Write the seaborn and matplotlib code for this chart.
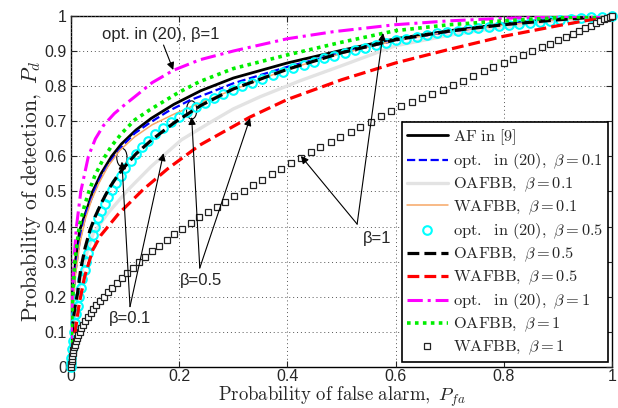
import matplotlib
matplotlib.use("Agg")
import matplotlib.pyplot as plt
from matplotlib.patches import Ellipse
import seaborn as sns

# ---------------- data ----------------
af_x = [0, 0.001, 0.003, 0.008, 0.016, 0.031, 0.04, 0.056, 0.075, 0.093, 0.12, 0.148, 0.19, 0.24, 0.3, 0.4, 0.5, 0.6, 0.7, 0.8, 0.9, 1.0]
af_y = [0, 0.10, 0.19, 0.30, 0.39, 0.457, 0.50, 0.552, 0.60, 0.635, 0.675, 0.708, 0.748, 0.787, 0.823, 0.866, 0.902, 0.935, 0.958, 0.977, 0.992, 1.0]

opt01_x = [0, 0.001, 0.003, 0.008, 0.016, 0.028, 0.044, 0.058, 0.075, 0.095, 0.118, 0.145, 0.179, 0.22, 0.261, 0.3, 0.4, 0.5, 0.6, 0.7, 0.8, 0.9, 1.0]
opt01_y = [0, 0.09, 0.17, 0.27, 0.36, 0.44, 0.504, 0.55, 0.59, 0.63, 0.666, 0.695, 0.728, 0.76, 0.784, 0.808, 0.855, 0.895, 0.93, 0.955, 0.975, 0.99, 1.0]

oaf01_x = [0, 0.001, 0.003, 0.007, 0.013, 0.02, 0.03, 0.041, 0.068, 0.105, 0.148, 0.204, 0.261, 0.3, 0.35, 0.423, 0.5, 0.6, 0.7, 0.8, 0.9, 1.0]
oaf01_y = [0, 0.05, 0.10, 0.16, 0.21, 0.27, 0.33, 0.38, 0.438, 0.504, 0.571, 0.647, 0.70, 0.735, 0.77, 0.815, 0.858, 0.915, 0.945, 0.968, 0.987, 1.0]

waf01_x = [0, 0.001, 0.003, 0.008, 0.016, 0.026, 0.038, 0.052, 0.068, 0.09, 0.118, 0.15, 0.19, 0.229, 0.261, 0.3, 0.4, 0.5, 0.6, 0.7, 0.8, 0.9, 1.0]
waf01_y = [0, 0.08, 0.16, 0.26, 0.35, 0.42, 0.476, 0.525, 0.571, 0.617, 0.656, 0.69, 0.72, 0.746, 0.766, 0.79, 0.848, 0.893, 0.93, 0.955, 0.974, 0.989, 1.0]

opt05_x = [0, 0.0001, 0.0003, 0.0012, 0.0028, 0.0055, 0.0078, 0.010, 0.0125, 0.015, 0.018, 0.021, 0.025, 0.0285,
           0.032, 0.036, 0.040, 0.045, 0.050, 0.056, 0.062, 0.069, 0.076, 0.084, 0.092, 0.100, 0.110, 0.120,
           0.131, 0.143, 0.156, 0.170, 0.184, 0.199, 0.215, 0.231, 0.247, 0.264, 0.281, 0.299, 0.317, 0.335,
           0.354, 0.373, 0.392, 0.411, 0.430, 0.449, 0.468, 0.487, 0.506, 0.525, 0.544, 0.563, 0.582, 0.601,
           0.620, 0.639, 0.658, 0.677, 0.696, 0.715, 0.734, 0.753, 0.772, 0.791, 0.810, 0.829, 0.848, 0.867,
           0.886, 0.905, 0.924, 0.943, 0.962, 0.981, 1.000]
opt05_y = [0, 0.012, 0.025, 0.05, 0.075, 0.10, 0.125, 0.15, 0.175, 0.20, 0.225, 0.25, 0.275, 0.30,
           0.325, 0.35, 0.375, 0.40, 0.425, 0.445, 0.465, 0.484, 0.504, 0.524, 0.545, 0.566, 0.587, 0.607,
           0.627, 0.645, 0.663, 0.681, 0.697, 0.712, 0.726, 0.740, 0.753, 0.765, 0.777, 0.789, 0.800, 0.810,
           0.820, 0.831, 0.841, 0.851, 0.861, 0.870, 0.879, 0.887, 0.895, 0.903, 0.910, 0.917, 0.924, 0.930,
           0.935, 0.940, 0.945, 0.950, 0.954, 0.958, 0.962, 0.966, 0.969, 0.972, 0.975, 0.977, 0.980, 0.983,
           0.986, 0.989, 0.991, 0.994, 0.996, 0.998, 1.000]

oaf05_x = [0, 0.001, 0.003, 0.007, 0.012, 0.018, 0.026, 0.035, 0.045, 0.057, 0.07, 0.085, 0.1, 0.12, 0.15, 0.19, 0.24, 0.3, 0.4, 0.5, 0.6, 0.7, 0.8, 0.9, 1.0]
oaf05_y = [0, 0.07, 0.12, 0.17, 0.21, 0.28, 0.34, 0.39, 0.43, 0.47, 0.508, 0.543, 0.572, 0.607, 0.648, 0.695, 0.745, 0.792, 0.848, 0.895, 0.932, 0.957, 0.975, 0.989, 1.0]

waf05_x = [0, 0.001, 0.003, 0.008, 0.015, 0.025, 0.04, 0.055, 0.087, 0.133, 0.179, 0.238, 0.331, 0.4, 0.5, 0.6, 0.7, 0.8, 0.9, 1.0]
waf05_y = [0, 0.03, 0.06, 0.105, 0.18, 0.257, 0.333, 0.375, 0.435, 0.505, 0.565, 0.632, 0.712, 0.762, 0.818, 0.866, 0.905, 0.942, 0.972, 1.0]

opt1_x = [0, 0.0005, 0.002, 0.005, 0.01, 0.018, 0.032, 0.045, 0.06, 0.08, 0.1, 0.118, 0.15, 0.189, 0.238, 0.3, 0.4, 0.485, 0.6, 0.7, 0.8, 0.9, 1.0]
opt1_y = [0, 0.10, 0.20, 0.30, 0.40, 0.50, 0.60, 0.65, 0.688, 0.722, 0.748, 0.77, 0.81, 0.845, 0.875, 0.90, 0.935, 0.955, 0.975, 0.986, 0.993, 0.998, 1.0]

oaf1_x = [0, 0.001, 0.003, 0.007, 0.015, 0.025, 0.033, 0.044, 0.058, 0.075, 0.095, 0.118, 0.145, 0.173, 0.2, 0.238, 0.3, 0.4, 0.5, 0.6, 0.7, 0.8, 0.9, 1.0]
oaf1_y = [0, 0.11, 0.20, 0.30, 0.40, 0.46, 0.50, 0.545, 0.588, 0.63, 0.668, 0.704, 0.732, 0.758, 0.783, 0.813, 0.85, 0.889, 0.925, 0.958, 0.975, 0.986, 0.995, 1.0]

waf1_x = [0.000, 0.000, 0.001, 0.001, 0.002, 0.003, 0.004, 0.005, 0.007, 0.009, 0.011, 0.013, 0.016, 0.019,
          0.022, 0.026, 0.031, 0.036, 0.041, 0.047, 0.053, 0.060, 0.068, 0.076, 0.085, 0.094, 0.104, 0.114,
          0.125, 0.137, 0.150, 0.163, 0.177, 0.191, 0.206, 0.221, 0.237, 0.253, 0.269, 0.285, 0.302, 0.319,
          0.336, 0.353, 0.371, 0.389, 0.407, 0.425, 0.443, 0.461, 0.480, 0.498, 0.517, 0.535, 0.554, 0.573,
          0.592, 0.611, 0.630, 0.649, 0.668, 0.687, 0.706, 0.725, 0.744, 0.763, 0.781, 0.800, 0.818, 0.836,
          0.853, 0.870, 0.886, 0.901, 0.915, 0.928, 0.940, 0.951, 0.961, 0.970, 0.978, 0.985, 0.991, 0.996, 1.000]
waf1_y = [0.000, 0.008, 0.016, 0.024, 0.032, 0.040, 0.048, 0.056, 0.064, 0.073, 0.082, 0.091, 0.100, 0.110,
          0.120, 0.131, 0.142, 0.153, 0.164, 0.176, 0.188, 0.200, 0.213, 0.226, 0.240, 0.254, 0.268, 0.283,
          0.298, 0.313, 0.330, 0.346, 0.362, 0.378, 0.394, 0.410, 0.426, 0.441, 0.456, 0.471, 0.487, 0.502,
          0.518, 0.533, 0.549, 0.565, 0.580, 0.596, 0.611, 0.626, 0.641, 0.656, 0.670, 0.685, 0.699, 0.714,
          0.728, 0.742, 0.754, 0.765, 0.778, 0.790, 0.803, 0.816, 0.829, 0.842, 0.854, 0.866, 0.878, 0.889,
          0.900, 0.911, 0.921, 0.931, 0.940, 0.949, 0.957, 0.965, 0.972, 0.979, 0.985, 0.991, 0.995, 0.998, 1.000]

x_ticks = [0, 0.2, 0.4, 0.6, 0.8, 1]
x_tick_labels = ["0", "0.2", "0.4", "0.6", "0.8", "1"]
y_ticks = [0, 0.1, 0.2, 0.3, 0.4, 0.5, 0.6, 0.7, 0.8, 0.9, 1]
y_tick_labels = ["0", "0.1", "0.2", "0.3", "0.4", "0.5", "0.6", "0.7", "0.8", "0.9", "1"]

# ---------------- style ----------------
sns.set_style("white")
plt.rcParams["mathtext.fontset"] = "cm"
plt.rcParams["font.family"] = ["Liberation Sans", "DejaVu Sans"]

fig = plt.figure(figsize=(6.18, 4.08), dpi=100)
ax = fig.add_axes([0.115, 0.1005, 0.875, 0.8605])

common = dict(ax=ax, sort=False, estimator=None)
sns.lineplot(x=af_x, y=af_y, color="black", lw=2.0, label=r"$\mathrm{AF\ in\ [9]}$", **common)
sns.lineplot(x=opt01_x, y=opt01_y, color="#0000ff", lw=1.6, linestyle=(0, (3.7, 1.6)),
             label=r"$\mathrm{opt.\ \ in\ (20),}\ \beta = 0.1$", **common)
sns.lineplot(x=oaf01_x, y=oaf01_y, color="#e3e3e3", lw=2.4,
             label=r"$\mathrm{OAFBB,}\ \beta = 0.1$", **common)
sns.lineplot(x=waf01_x, y=waf01_y, color="#f7a766", lw=1.1,
             label=r"$\mathrm{WAFBB,}\ \beta = 0.1$", **common)
sns.lineplot(x=opt05_x, y=opt05_y, color="cyan", linestyle="none", marker="o", markersize=6.2,
             markerfacecolor="none", markeredgecolor="cyan", markeredgewidth=1.5, clip_on=False,
             label=r"$\mathrm{opt.\ \ in\ (20),}\ \beta = 0.5$", **common)
sns.lineplot(x=oaf05_x, y=oaf05_y, color="black", lw=2.3, linestyle=(0, (3.7, 1.6)),
             label=r"$\mathrm{OAFBB,}\ \beta = 0.5$", **common)
sns.lineplot(x=waf05_x, y=waf05_y, color="#ff0000", lw=2.3, linestyle=(0, (3.7, 1.6)),
             label=r"$\mathrm{WAFBB,}\ \beta = 0.5$", **common)
sns.lineplot(x=opt1_x, y=opt1_y, color="#ff00ff", lw=2.2, linestyle=(0, (5.0, 1.6, 1.0, 1.6)),
             label=r"$\mathrm{opt.\ \ in\ (20),}\ \beta = 1$", **common)
sns.lineplot(x=oaf1_x, y=oaf1_y, color="#00ee00", lw=2.6, linestyle=(0, (1.0, 1.2)),
             label=r"$\mathrm{OAFBB,}\ \beta = 1$", **common)
sns.lineplot(x=waf1_x, y=waf1_y, color="black", linestyle="none", marker="s", markersize=4.6,
             markerfacecolor="white", markeredgecolor="#222222", markeredgewidth=0.9, clip_on=False,
             label=r"$\mathrm{WAFBB,}\ \beta = 1$", **common)

ax.set_xlim(0, 1)
ax.set_ylim(0, 1)
ax.set_xticks(x_ticks)
ax.set_xticklabels(x_tick_labels)
ax.set_yticks(y_ticks)
ax.set_yticklabels(y_tick_labels)
ax.tick_params(direction="in", length=4, width=0.8, labelsize=11.5, top=True, right=True,
               bottom=True, left=True)
ax.tick_params(axis="x", pad=1.5)
ax.tick_params(axis="y", pad=3)
ax.grid(True, linestyle=(0, (1, 3)), color="#555555", lw=0.7)
for s in ax.spines.values():
    s.set_color("black")
    s.set_linewidth(1.0)
    s.set_zorder(0.5)

ax.set_xlabel(r"$\mathrm{Probability\ of\ false\ alarm,}\ P_{fa}$", fontsize=13.5)
ax.xaxis.set_label_coords(0.5, -0.05)
ax.set_ylabel(r"$\mathrm{Probability\ of\ detection,}\ P_d$", fontsize=15.5, labelpad=1)

leg = ax.legend(loc="upper left", bbox_to_anchor=(0.612, 0.697), fontsize=11.8, frameon=True,
                fancybox=False, edgecolor="black", framealpha=1, handlelength=2.5,
                handletextpad=0.3, labelspacing=0.27, borderpad=0.3, borderaxespad=0)
leg.get_frame().set_linewidth(1.2)
leg.set_zorder(10)

# ---------------- annotations ----------------
ap = dict(arrowstyle="-|>", color="black", lw=0.8, mutation_scale=11, shrinkA=0, shrinkB=0)
tf = dict(fontsize=12, ha="center", va="center")

ax.annotate("", xy=(0.189, 0.846), xytext=(0.171, 0.917), arrowprops=ap)
ax.text(0.165, 0.946, "opt. in (20), β=1", **tf)

ax.annotate("", xy=(0.425, 0.601), xytext=(0.529, 0.407), arrowprops=ap)
ax.annotate("", xy=(0.577, 0.951), xytext=(0.529, 0.407), arrowprops=ap)
ax.text(0.566, 0.365, "β=1", **tf)

ax.annotate("", xy=(0.223, 0.712), xytext=(0.238, 0.282), arrowprops=ap)
ax.annotate("", xy=(0.331, 0.709), xytext=(0.238, 0.282), arrowprops=ap)
ax.text(0.24, 0.245, "β=0.5", **tf)

ax.annotate("", xy=(0.094, 0.585), xytext=(0.109, 0.172), arrowprops=ap)
ax.annotate("", xy=(0.171, 0.609), xytext=(0.109, 0.172), arrowprops=ap)
ax.text(0.109, 0.137, "β=0.1", **tf)

ax.add_patch(Ellipse((0.223, 0.732), 0.019, 0.052, fill=False, edgecolor="black", lw=0.8))
ax.add_patch(Ellipse((0.094, 0.597), 0.019, 0.052, fill=False, edgecolor="black", lw=0.8))

fig.savefig("out.png", dpi=100)
